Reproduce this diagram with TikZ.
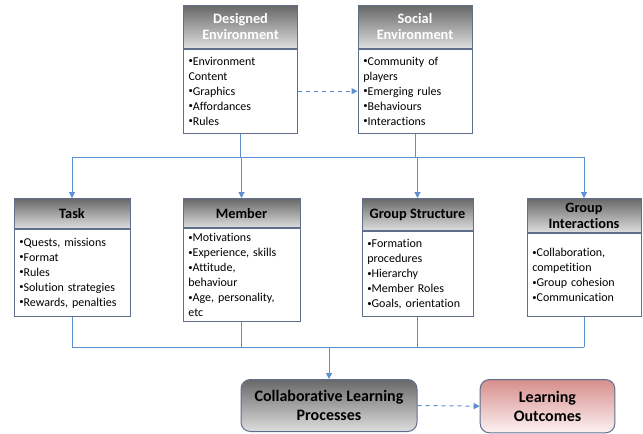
\documentclass[tikz,border=0pt]{standalone}
\usepackage{fontspec}
\setmainfont[Ligatures={NoCommon,NoContextual}]{Carlito}
\usetikzlibrary{positioning,arrows.meta}
\definecolor{boxline}{RGB}{96,110,140}
\definecolor{lineblue}{RGB}{91,143,208}
\definecolor{headtop}{RGB}{104,104,104}
\definecolor{headbot}{RGB}{222,222,222}
\definecolor{pinktop}{RGB}{214,142,140}
\definecolor{pinkbot}{RGB}{253,242,242}
\newcommand{\bul}{{\fontsize{6.5}{6}\selectfont\raisebox{0.35ex}{•}}}

\begin{document}
\begin{tikzpicture}[x=0.75pt,y=-0.75pt,>={Triangle[length=4.5pt,width=4.5pt]},
                    line width=0.75pt]
  \tikzset{head/.style={draw=boxline,top color=headtop,bottom color=headbot,
             minimum width=#1,inner sep=2pt,align=center,anchor=north,
             font=\bfseries\fontsize{10.75}{12}\selectfont},
           body/.style={draw=boxline,fill=white,text width=#1,inner xsep=4pt,
             align=left,font=\fontsize{9}{11.25}\selectfont},
           proc/.style={draw=boxline,rounded corners=7pt,anchor=north,align=center,
             font=\bfseries\fontsize{12}{14.5}\selectfont},
           conn/.style={draw=lineblue}}
  \useasboundingbox (0,0) rectangle (643,433);

  % environments
  \node[head=86pt,minimum height=32pt,text=white] (DE) at (240.5,5) {Designed\\Environment};
  \node[body=78pt,minimum height=63pt,below=0pt of DE] (DEb)
       {\bul Environment\\Content\\\bul Graphics\\\bul Affordances\\\bul Rules};
  \node[head=85.5pt,minimum height=32pt,text=white] (SE) at (415,5) {Social\\Environment};
  \node[body=77.5pt,minimum height=63pt,below=0pt of SE] (SEb)
       {\bul Community of\\players\\\bul Emerging rules\\\bul Behaviours\\\bul Interactions};

  % factors
  \node[head=87pt,minimum height=22.5pt] (T) at (72,198) {Task};
  \node[body=79pt,minimum height=65pt,below=0pt of T] (Tb)
       {\bul Quests, missions\\\bul Format\\\bul Rules\\\bul Solution strategies\\\bul Rewards, penalties};
  \node[head=87.75pt,minimum height=22pt] (M) at (241.5,198) {Member};
  \node[body=79.75pt,minimum height=66pt,below=0pt of M] (Mb)
       {\bul Motivations\\\bul Experience, skills\\\bul Attitude,\\behaviour\\\bul Age, personality,\\etc};
  \node[head=83.25pt,minimum height=24pt] (GS) at (417.5,198) {Group Structure};
  \node[body=75.25pt,minimum height=64pt,below=0pt of GS] (GSb)
       {\bul Formation\\procedures\\\bul Hierarchy\\\bul Member Roles\\\bul Goals, orientation};
  \node[head=85.5pt,minimum height=25.5pt] (GI) at (584,198) {Group\\Interactions};
  \node[body=77.5pt,minimum height=62pt,below=0pt of GI] (GIb)
       {\bul Collaboration,\\competition\\\bul Group cohesion\\\bul Communication};

  % outcomes
  \node[proc,top color=headtop,bottom color=headbot,minimum width=132pt,
        minimum height=39pt] (CLP) at (329,379) {Collaborative Learning\\Processes};
  \node[proc,top color=pinktop,bottom color=pinkbot,minimum width=101pt,
        minimum height=40pt] (LO) at (547.5,379) {Learning\\Outcomes};

  % connectors
  \coordinate (topbus) at (0,157);
  \coordinate (lowbus) at (0,347);
  \draw[conn,dashed,->] (DEb.east) -- (SEb.west);
  \draw[conn] (DEb.south) -- (DEb.south |- topbus);
  \draw[conn] (SEb.south) -- (SEb.south |- topbus);
  \draw[conn] (T.north |- topbus) -- (GI.north |- topbus);
  \foreach \n in {T,M,GS,GI}
    \draw[conn,->] (\n.north |- topbus) -- (\n.north);
  \foreach \n in {Tb,Mb,GSb,GIb}
    \draw[conn] (\n.south) -- (\n.south |- lowbus);
  \draw[conn] (Tb.south |- lowbus) -- (GIb.south |- lowbus);
  \draw[conn,->] (CLP.north |- lowbus) -- (CLP.north);
  \draw[conn,dashed,->] (CLP.east) -- (LO.west);
\end{tikzpicture}
\end{document}
